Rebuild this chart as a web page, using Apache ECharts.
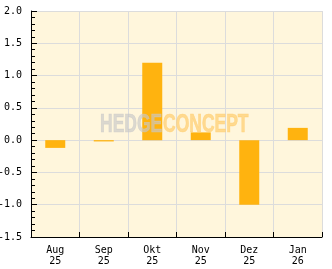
<!DOCTYPE html>
<html>
<head>
<meta charset="utf-8">
<script src="https://cdn.jsdelivr.net/npm/echarts@6/dist/echarts.min.js"></script>
<style>
html,body{margin:0;padding:0;background:#fff;}
#c{width:332px;height:269px;}
</style>
</head>
<body>
<div id="c"></div>
<script>
const months = ['Aug', 'Sep', 'Okt', 'Nov', 'Dez', 'Jan'];
const years = ['25', '25', '25', '25', '25', '26'];
const values = [-0.12, -0.02, 1.2, 0.12, -1.0, 0.19];
const yMin = -1.5, yMax = 2.0, yStep = 0.5;

const categories = months.map((m, i) => m + '\n' + years[i]);
const chart = echarts.init(document.getElementById('c'), null, {renderer: 'canvas'});
const font = 'DejaVu Sans Mono';
chart.setOption({
  animation: false,
  backgroundColor: '#ffffff',
  grid: {left: 31, right: 10, top: 11, bottom: 32, containLabel: false, outerBoundsMode: 'none',
         show: true, backgroundColor: '#fff6dc', borderWidth: 0},
  xAxis: {
    type: 'category', data: categories, boundaryGap: true,
    axisLine: {onZero: false, lineStyle: {color: '#000', width: 1}},
    axisTick: {show: true, inside: true, length: 5, lineStyle: {color: '#000'}},
    axisLabel: {color: '#000', fontFamily: font, fontSize: 10, lineHeight: 11, margin: 8},
    splitLine: {show: true, lineStyle: {color: '#dcdcdc', width: 1}}
  },
  yAxis: {
    type: 'value', min: yMin, max: yMax, interval: yStep,
    axisLine: {show: true, lineStyle: {color: '#000', width: 1}},
    axisTick: {show: true, inside: true, length: 6, lineStyle: {color: '#000'}},
    minorTick: {show: true, splitNumber: 5, length: 4, lineStyle: {color: '#000'}},
    axisLabel: {color: '#000', fontFamily: font, fontSize: 10, margin: 9,
                formatter: v => v.toFixed(1)},
    splitLine: {show: true, lineStyle: {color: '#dcdcdc', width: 1}}
  },
  series: [{
    type: 'bar', data: values, barWidth: 20,
    itemStyle: {color: '#ffb30f'}
  }],
  graphic: [
    {type: 'text', x: 100, y: 113, scaleX: 0.7, z: 100,
     style: {text: 'HEDGE', fill: 'rgba(200,200,200,0.65)', font: 'bold 25px "Liberation Sans"', textVerticalAlign: 'top',
             stroke: 'rgba(200,200,200,0.65)', lineWidth: 0.6}},
    {type: 'text', x: 163, y: 113, scaleX: 0.7, z: 100,
     style: {text: 'CONCEPT', fill: 'rgba(255,205,110,0.7)', font: 'bold 25px "Liberation Sans"', textVerticalAlign: 'top',
             stroke: 'rgba(255,205,110,0.7)', lineWidth: 0.6}}
  ]
});
</script>
</body>
</html>
